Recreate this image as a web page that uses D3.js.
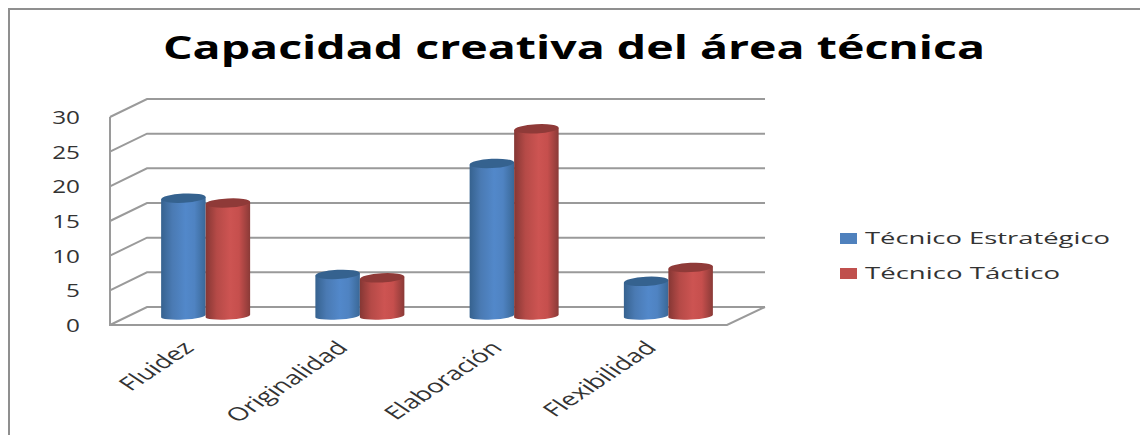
<!DOCTYPE html>
<html lang="es">
<head>
<meta charset="utf-8">
<title>Capacidad creativa del área técnica</title>
<script src="https://cdn.jsdelivr.net/npm/d3@7/dist/d3.min.js"></script>
<style>
  html, body { margin: 0; padding: 0; background: #fff; }
  svg { display: block; }
  text { font-family: "Open Sans", "Noto Sans", sans-serif; }
</style>
</head>
<body>
<svg id="chart" width="1140" height="435"></svg>
<script>
const chartTitle = "Capacidad creativa del área técnica";
const categories = ["Fluidez", "Originalidad", "Elaboración", "Flexibilidad"];
const seriesNames = ["Técnico Estratégico", "Técnico Táctico"];
const estrategico = [17, 6, 22, 5];
const tactico = [16.3, 5.5, 27, 7];
const yTicks = [0, 5, 10, 15, 20, 25, 30];

const svg = d3.select("#chart");
const W = 1140, H = 435;

// Projected box: the front plane and the back wall offset by a fixed depth
const depthX = 37, depthY = -18;
const frontLeft = 110, frontRight = 727, floorY = 325, topY = 117;

const x = d3.scaleBand().domain(categories).range([frontLeft, frontRight]);
const y = d3.scaleLinear().domain([0, 30]).range([floorY, topY]);
const inner = d3.scaleBand().domain(seriesNames).range([-44.5, 44.5]);

const grid = "#9a9a9a";

// Gradients that give the cylinders their rounded shading
const defs = svg.append("defs");
const shades = [
  { id: "blue", stops: ["#36628f", "#4a7ab3", "#5288ca", "#4f83c2", "#3a6897"], cap: "#35628f", key: "#4f81bd" },
  { id: "red", stops: ["#853734", "#b54a47", "#cd5452", "#c64f4d", "#8a3a37"], cap: "#8f3a38", key: "#c0504d" }
];
shades.forEach(s => {
  const g = defs.append("linearGradient").attr("id", s.id).attr("x1", 0).attr("x2", 1).attr("y1", 0).attr("y2", 0);
  [0, 0.25, 0.55, 0.75, 1].forEach((o, i) =>
    g.append("stop").attr("offset", o).attr("stop-color", s.stops[i]));
});

// Outer frame, open on the right and the bottom
svg.append("path")
  .attr("d", d3.line()([[9, H], [9, 9], [W, 9]]))
  .attr("fill", "none").attr("stroke", "#8f8f8f").attr("stroke-width", 2);

// Title, widened to the letter spacing of the heading
svg.append("text")
  .attr("x", 574).attr("y", 59)
  .attr("text-anchor", "middle")
  .attr("font-size", 32).attr("font-weight", 700).attr("fill", "#000")
  .attr("textLength", 822).attr("lengthAdjust", "spacingAndGlyphs")
  .text(chartTitle);

// Back wall gridlines with their slanted returns on the side wall
const gridG = svg.append("g").attr("fill", "none").attr("stroke", grid).attr("stroke-width", 2);
yTicks.forEach(t => {
  gridG.append("path").attr("d", d3.line()([
    [frontLeft, y(t)],
    [frontLeft + depthX, y(t) + depthY],
    [frontRight + depthX + 1, y(t) + depthY]
  ]));
});
// Side wall edge and floor outline
gridG.append("path").attr("d", d3.line()([
  [frontLeft, y(30)], [frontLeft, floorY], [frontRight, floorY],
  [frontRight + depthX + 1, floorY + depthY]
]));

// Value axis labels
svg.append("g").selectAll("text").data(yTicks).join("text")
  .attr("text-anchor", "end")
  .attr("font-size", 18).attr("fill", "#333")
  .attr("transform", d => `translate(80,${y(d) + 7}) scale(1.35,1)`)
  .text(d => d);

// Cylinders stand half way into the floor depth
const barBase = v => y(v) + depthY / 2;
const ellipseRy = 4.6, baseRy = 3.6, tilt = -3;
const barW = inner.bandwidth();

[estrategico, tactico].forEach((vals, si) => {
  const name = seriesNames[si];
  const shade = shades[si];
  const g = svg.append("g");
  const cx = i => x(categories[i]) + x.bandwidth() / 2 + depthX / 2 + inner(name) + barW / 2;
  const rows = vals.map((v, i) => ({ v, i, cx: cx(i) }));

  g.selectAll("path.body").data(rows).join("path")
    .attr("class", "body")
    .attr("fill", `url(#${shade.id})`)
    .attr("d", d => {
      const l = d.cx - barW / 2, r = d.cx + barW / 2;
      const top = barBase(d.v), base = barBase(0);
      const dy = barW / 2 * Math.sin(tilt * Math.PI / 180);
      return `M${l},${top - dy}L${r},${top + dy}L${r},${base + dy}` +
        `A${barW / 2},${baseRy} ${tilt} 0 1 ${l},${base - dy}Z`;
    });

  g.selectAll("ellipse").data(rows).join("ellipse")
    .attr("cx", d => d.cx).attr("cy", d => barBase(d.v))
    .attr("rx", barW / 2).attr("ry", ellipseRy)
    .attr("transform", d => `rotate(${tilt} ${d.cx} ${barBase(d.v)})`)
    .attr("fill", shade.cap);
});

// Category labels: turned 45 degrees, then widened with the rest of the drawing
svg.append("g").selectAll("text").data(categories).join("text")
  .attr("text-anchor", "end")
  .attr("font-size", 18.5).attr("fill", "#333")
  .attr("transform", d => `translate(${x(d) + x.bandwidth() / 2 + 8},${349}) scale(1.5,1) rotate(-45)`)
  .text(d => d);

// Legend
const legend = svg.append("g").selectAll("g").data(seriesNames).join("g")
  .attr("transform", (d, i) => `translate(840,${233 + i * 35})`);
legend.append("rect").attr("width", 17).attr("height", 11)
  .attr("fill", (d, i) => shades[i].key);
legend.append("text")
  .attr("x", 25).attr("y", 11)
  .attr("font-size", 17).attr("fill", "#333")
  .attr("textLength", (d, i) => i === 0 ? 245 : 195)
  .attr("lengthAdjust", "spacingAndGlyphs")
  .text(d => d);
</script>
</body>
</html>
